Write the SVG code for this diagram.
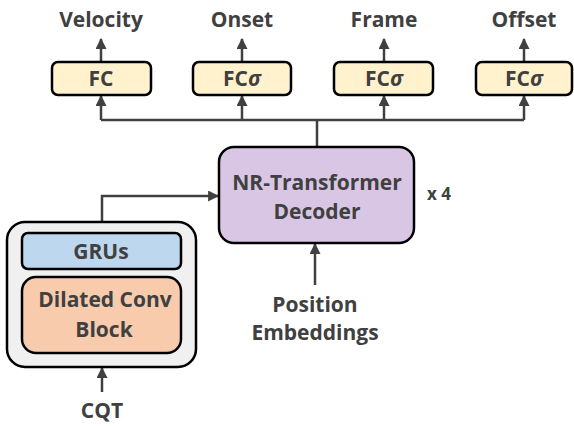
<svg xmlns="http://www.w3.org/2000/svg" width="574" height="426" viewBox="0 0 574 426">
<defs>
<marker id="ah" viewBox="0 0 10 10" refX="9" refY="5" markerWidth="4.4" markerHeight="4.4" orient="auto" markerUnits="strokeWidth">
<path d="M0,0 L10,5 L0,10 z" fill="#404040"/>
</marker>
<style>
text{font-family:"Open Sans",Lato,"Liberation Sans",sans-serif;font-weight:bold;fill:#404040;text-anchor:middle}
.lbl{font-size:21px}
.fc{fill:#fff2cc;stroke:#000;stroke-width:2.5}
.ln{fill:none;stroke:#404040;stroke-width:2.5}
.ar{marker-end:url(#ah)}
</style>
</defs>
<rect width="574" height="426" fill="#fff"/>
<g id="connectors">
<path class="ln" d="M101,120 H524 M317,147 V120"/>
<path class="ln ar" d="M101,120 V96"/>
<path class="ln ar" d="M242,120 V96"/>
<path class="ln ar" d="M384,120 V96"/>
<path class="ln ar" d="M524,120 V96"/>
<path class="ln ar" d="M101,62 V39"/>
<path class="ln ar" d="M242,62 V39"/>
<path class="ln ar" d="M384,62 V39"/>
<path class="ln ar" d="M524,62 V39"/>
<path class="ln ar" d="M102,222 V196 H218"/>
<path class="ln ar" d="M315,285 V244"/>
<path class="ln ar" d="M102,392 V368"/>
</g>
<g id="out-velocity"><text class="lbl" x="101" y="27">Velocity</text></g>
<g id="out-onset"><text class="lbl" x="242" y="27">Onset</text></g>
<g id="out-frame"><text class="lbl" x="384" y="27">Frame</text></g>
<g id="out-offset"><text class="lbl" x="524" y="27">Offset</text></g>
<g id="fc1"><rect class="fc" x="52" y="62" width="99" height="33" rx="6"/><text class="lbl" x="101" y="86">FC</text></g>
<g id="fc2"><rect class="fc" x="193" y="62" width="98" height="33" rx="6"/><text class="lbl" x="242" y="86">FC<tspan font-style="italic">σ</tspan></text></g>
<g id="fc3"><rect class="fc" x="334" y="62" width="99" height="33" rx="6"/><text class="lbl" x="384" y="86">FC<tspan font-style="italic">σ</tspan></text></g>
<g id="fc4"><rect class="fc" x="476" y="62" width="96" height="33" rx="6"/><text class="lbl" x="524" y="86">FC<tspan font-style="italic">σ</tspan></text></g>
<g id="decoder"><rect x="219" y="147" width="195" height="96" rx="15" fill="#d9c6e4" stroke="#000" stroke-width="2.5"/>
<text class="lbl" x="317" y="190">NR-Transformer</text><text class="lbl" x="317" y="219">Decoder</text></g>
<g id="x4"><text x="439" y="200" font-size="17">x 4</text></g>
<g id="posemb"><text class="lbl" x="315" y="312">Position</text><text class="lbl" x="315" y="340">Embeddings</text></g>
<g id="encoder"><rect x="7" y="222" width="189" height="145" rx="18" fill="#f0f0f0" stroke="#000" stroke-width="2.5"/>
<g id="grus"><rect x="22" y="233" width="159" height="36" rx="6" fill="#bdd7ee" stroke="#000" stroke-width="2.5"/><text class="lbl" x="101" y="259">GRUs</text></g>
<g id="dilated"><rect x="22" y="277" width="159" height="76" rx="14" fill="#f8cbad" stroke="#000" stroke-width="2.5"/><text class="lbl" x="105" y="307">Dilated Conv</text><text class="lbl" x="104" y="337">Block</text></g>
</g>
<g id="cqt"><text class="lbl" x="102" y="418">CQT</text></g>
</svg>
